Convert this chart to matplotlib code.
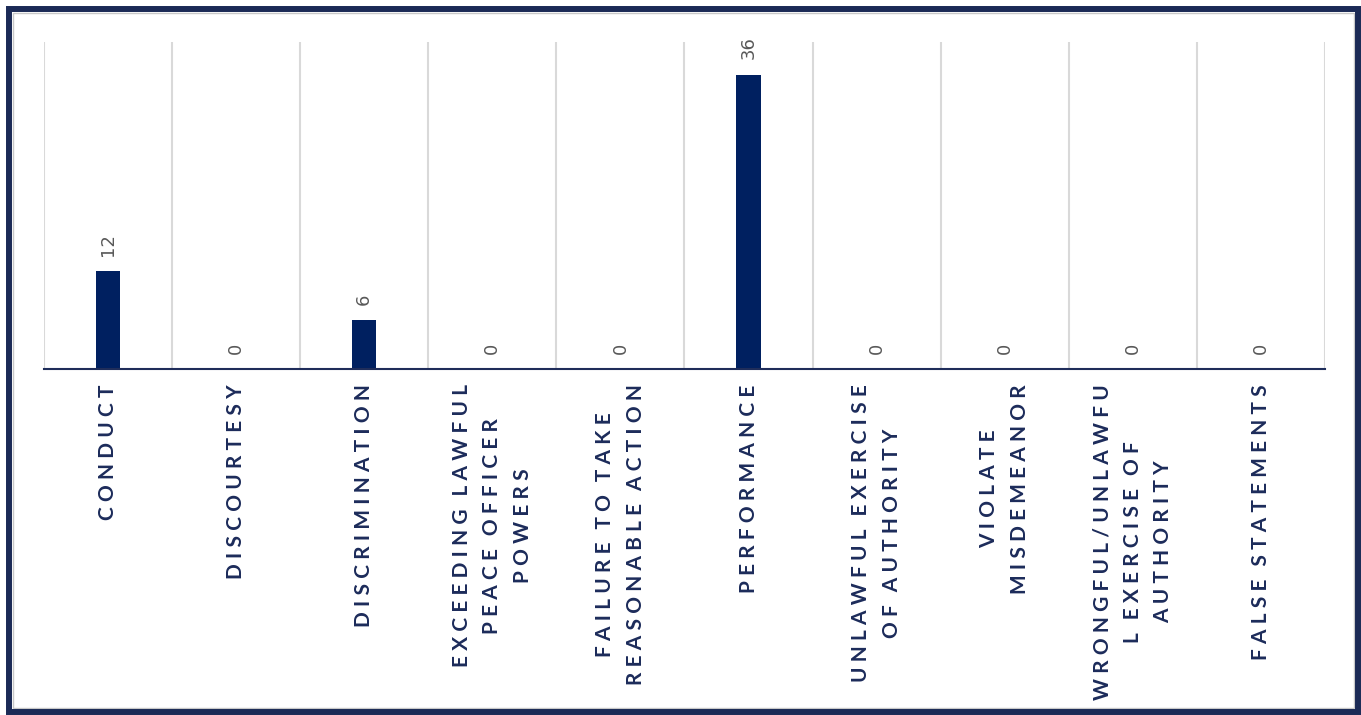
import matplotlib.pyplot as plt
from matplotlib.patches import Rectangle

# categories and counts
categories = ['CONDUCT', 'DISCOURTESY', 'DISCRIMINATION',
              'EXCEEDING LAWFUL\nPEACE OFFICER\nPOWERS',
              'FAILURE TO TAKE\nREASONABLE ACTION', 'PERFORMANCE',
              'UNLAWFUL EXERCISE\nOF AUTHORITY', 'VIOLATE\nMISDEMEANOR',
              'WRONGFUL/UNLAWFU\nL EXERCISE OF\nAUTHORITY', 'FALSE STATEMENTS']
counts = [12, 0, 6, 0, 0, 36, 0, 0, 0, 0]

navy = '#002060'
text_navy = '#1c2b5a'


def spaced(label):
    # wide letter spacing like the original labels
    lines = []
    for line in label.split('\n'):
        words = ['\u2009\u2009'.join(w) for w in line.split(' ')]
        lines.append('\u2009\u2009 \u2009'.join(words))
    return '\n'.join(lines)


W, H = 1361, 715
fig = plt.figure(figsize=(W / 100, H / 100), dpi=100)
ax = fig.add_axes([44 / W, 346 / H, (1325 - 44) / W, 327 / H])

x = list(range(len(categories)))
ax.bar(x, counts, width=0.19, color=navy, zorder=3)
ax.set_xlim(-0.5, len(categories) - 0.5)
ax.set_ylim(0, 40)

# vertical separators between categories
ax.set_xticks([i - 0.5 for i in range(len(categories) + 1)], minor=True)
ax.grid(which='minor', axis='x', color='#d9d9d9', lw=1.5, zorder=0)
ax.tick_params(which='minor', length=0)

ax.set_xticks(x)
ax.set_xticklabels([spaced(c) for c in categories], rotation=90,
                   ha='center', va='top', multialignment='center',
                   fontsize=15, fontweight='bold', color=text_navy,
                   family=['Lato', 'DejaVu Sans'], linespacing=1.65)
ax.tick_params(axis='x', which='major', length=0, pad=11)
ax.set_yticks([])

for side in ['left', 'top', 'right']:
    ax.spines[side].set_visible(False)
ax.spines['bottom'].set_color('#1f2d5a')
ax.spines['bottom'].set_linewidth(1.5)
ax.spines['bottom'].set_zorder(4)

# value labels above bars
for i, v in zip(x, counts):
    ax.annotate(str(v), (i, v), xytext=(0, 11), textcoords='offset points',
                rotation=90, ha='center', va='bottom', color='#595959',
                fontsize=13)

# frame around the chart
fig.patches.append(Rectangle((13 / W, 7 / H), (1354 - 13) / W, (702 - 7) / H,
                             transform=fig.transFigure, fill=False,
                             edgecolor='#c8c8c8', lw=1))
fig.patches.append(Rectangle((9 / W, 3 / H), (1358 - 9) / W, (706 - 3) / H,
                             transform=fig.transFigure, fill=False,
                             edgecolor='#1b2a56', lw=4.3))

fig.savefig('out.png', dpi=100)
